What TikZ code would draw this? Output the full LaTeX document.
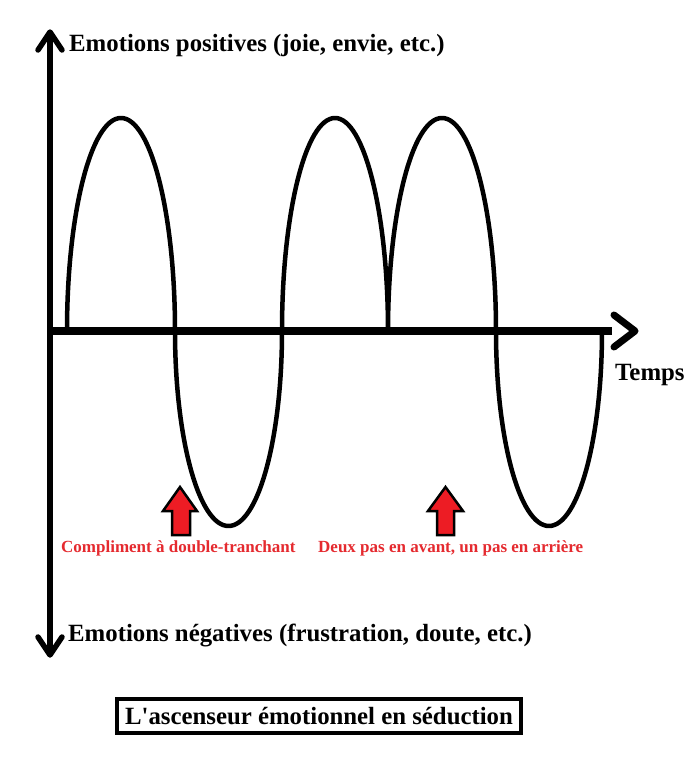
\documentclass[tikz,border=0pt]{standalone}
\usepackage{fontspec}
\setmainfont{Liberation Serif}
\definecolor{pred}{HTML}{ED1C24}
\definecolor{tred}{HTML}{E52A2F}
\begin{document}
\begin{tikzpicture}[x=1pt,y=-1pt,
  vaxis/.style={line width=5.5pt},
  haxis/.style={line width=8pt},
  chev/.style={line width=5.5pt,line cap=round,line join=round},
  wave/.style={line width=4.5pt,line join=round},
  uparrow/.style={draw=black,fill=pred,line width=2.5pt,line join=miter},
  lbl/.style={inner sep=0pt,anchor=base west,font=\fontsize{24.8}{28}\selectfont\bfseries},
  rlbl/.style={inner sep=0pt,anchor=base west,text=tred,font=\fontsize{17}{19}\selectfont\bfseries}]
\useasboundingbox[fill=white] (0,0) rectangle (692,769);
% axes
\coordinate (vtop) at (50,32);
\coordinate (vbot) at (50,655);
\coordinate (origin) at (50,331);
\coordinate (htip) at (635,331);
\draw[vaxis] (vtop) -- (vbot);
\draw[chev] (38,50) -- (vtop) -- (62,50);
\draw[chev] (38,637) -- (vbot) -- (62,637);
\draw[haxis] (origin) -- (612,331);
\draw[chev,line width=7pt] (614,315) -- (htip) -- (614,347);
% wave
\draw[wave] (67,331)
  arc[start angle=180,end angle=360,x radius=54,y radius=213]
  arc[start angle=180,end angle=0,x radius=53.5,y radius=195]
  arc[start angle=180,end angle=360,x radius=53,y radius=213]
  arc[start angle=180,end angle=360,x radius=54,y radius=213]
  arc[start angle=180,end angle=0,x radius=53,y radius=195];
% red arrows
\draw[uparrow] (180,487) -- (197,511) -- (190,511) -- (190,535) -- (172,535) -- (172,511) -- (163,511) -- cycle;
\draw[uparrow] (445.5,487) -- (463,511) -- (454,511) -- (454,535) -- (437,535) -- (437,511) -- (428,511) -- cycle;
% labels
\node[lbl] (pos) at (69,51) {Emotions positives (joie, envie, etc.)};
\node[lbl] (neg) at (68,641) {Emotions négatives (frustration, doute, etc.)};
\node[lbl] (temps) at (615,380) {Temps};
\node[rlbl] (c1) at (61,552) {Compliment à double-tranchant};
\node[rlbl] (c2) at (318,552) {Deux pas en avant, un pas en arrière};
\node[draw,line width=4pt,minimum width=404pt,minimum height=34pt,inner sep=0pt,
  font=\fontsize{24.8}{28}\selectfont\bfseries] (title) at (319,716) {L\textquotesingle ascenseur émotionnel en séduction};
\end{tikzpicture}
\end{document}
